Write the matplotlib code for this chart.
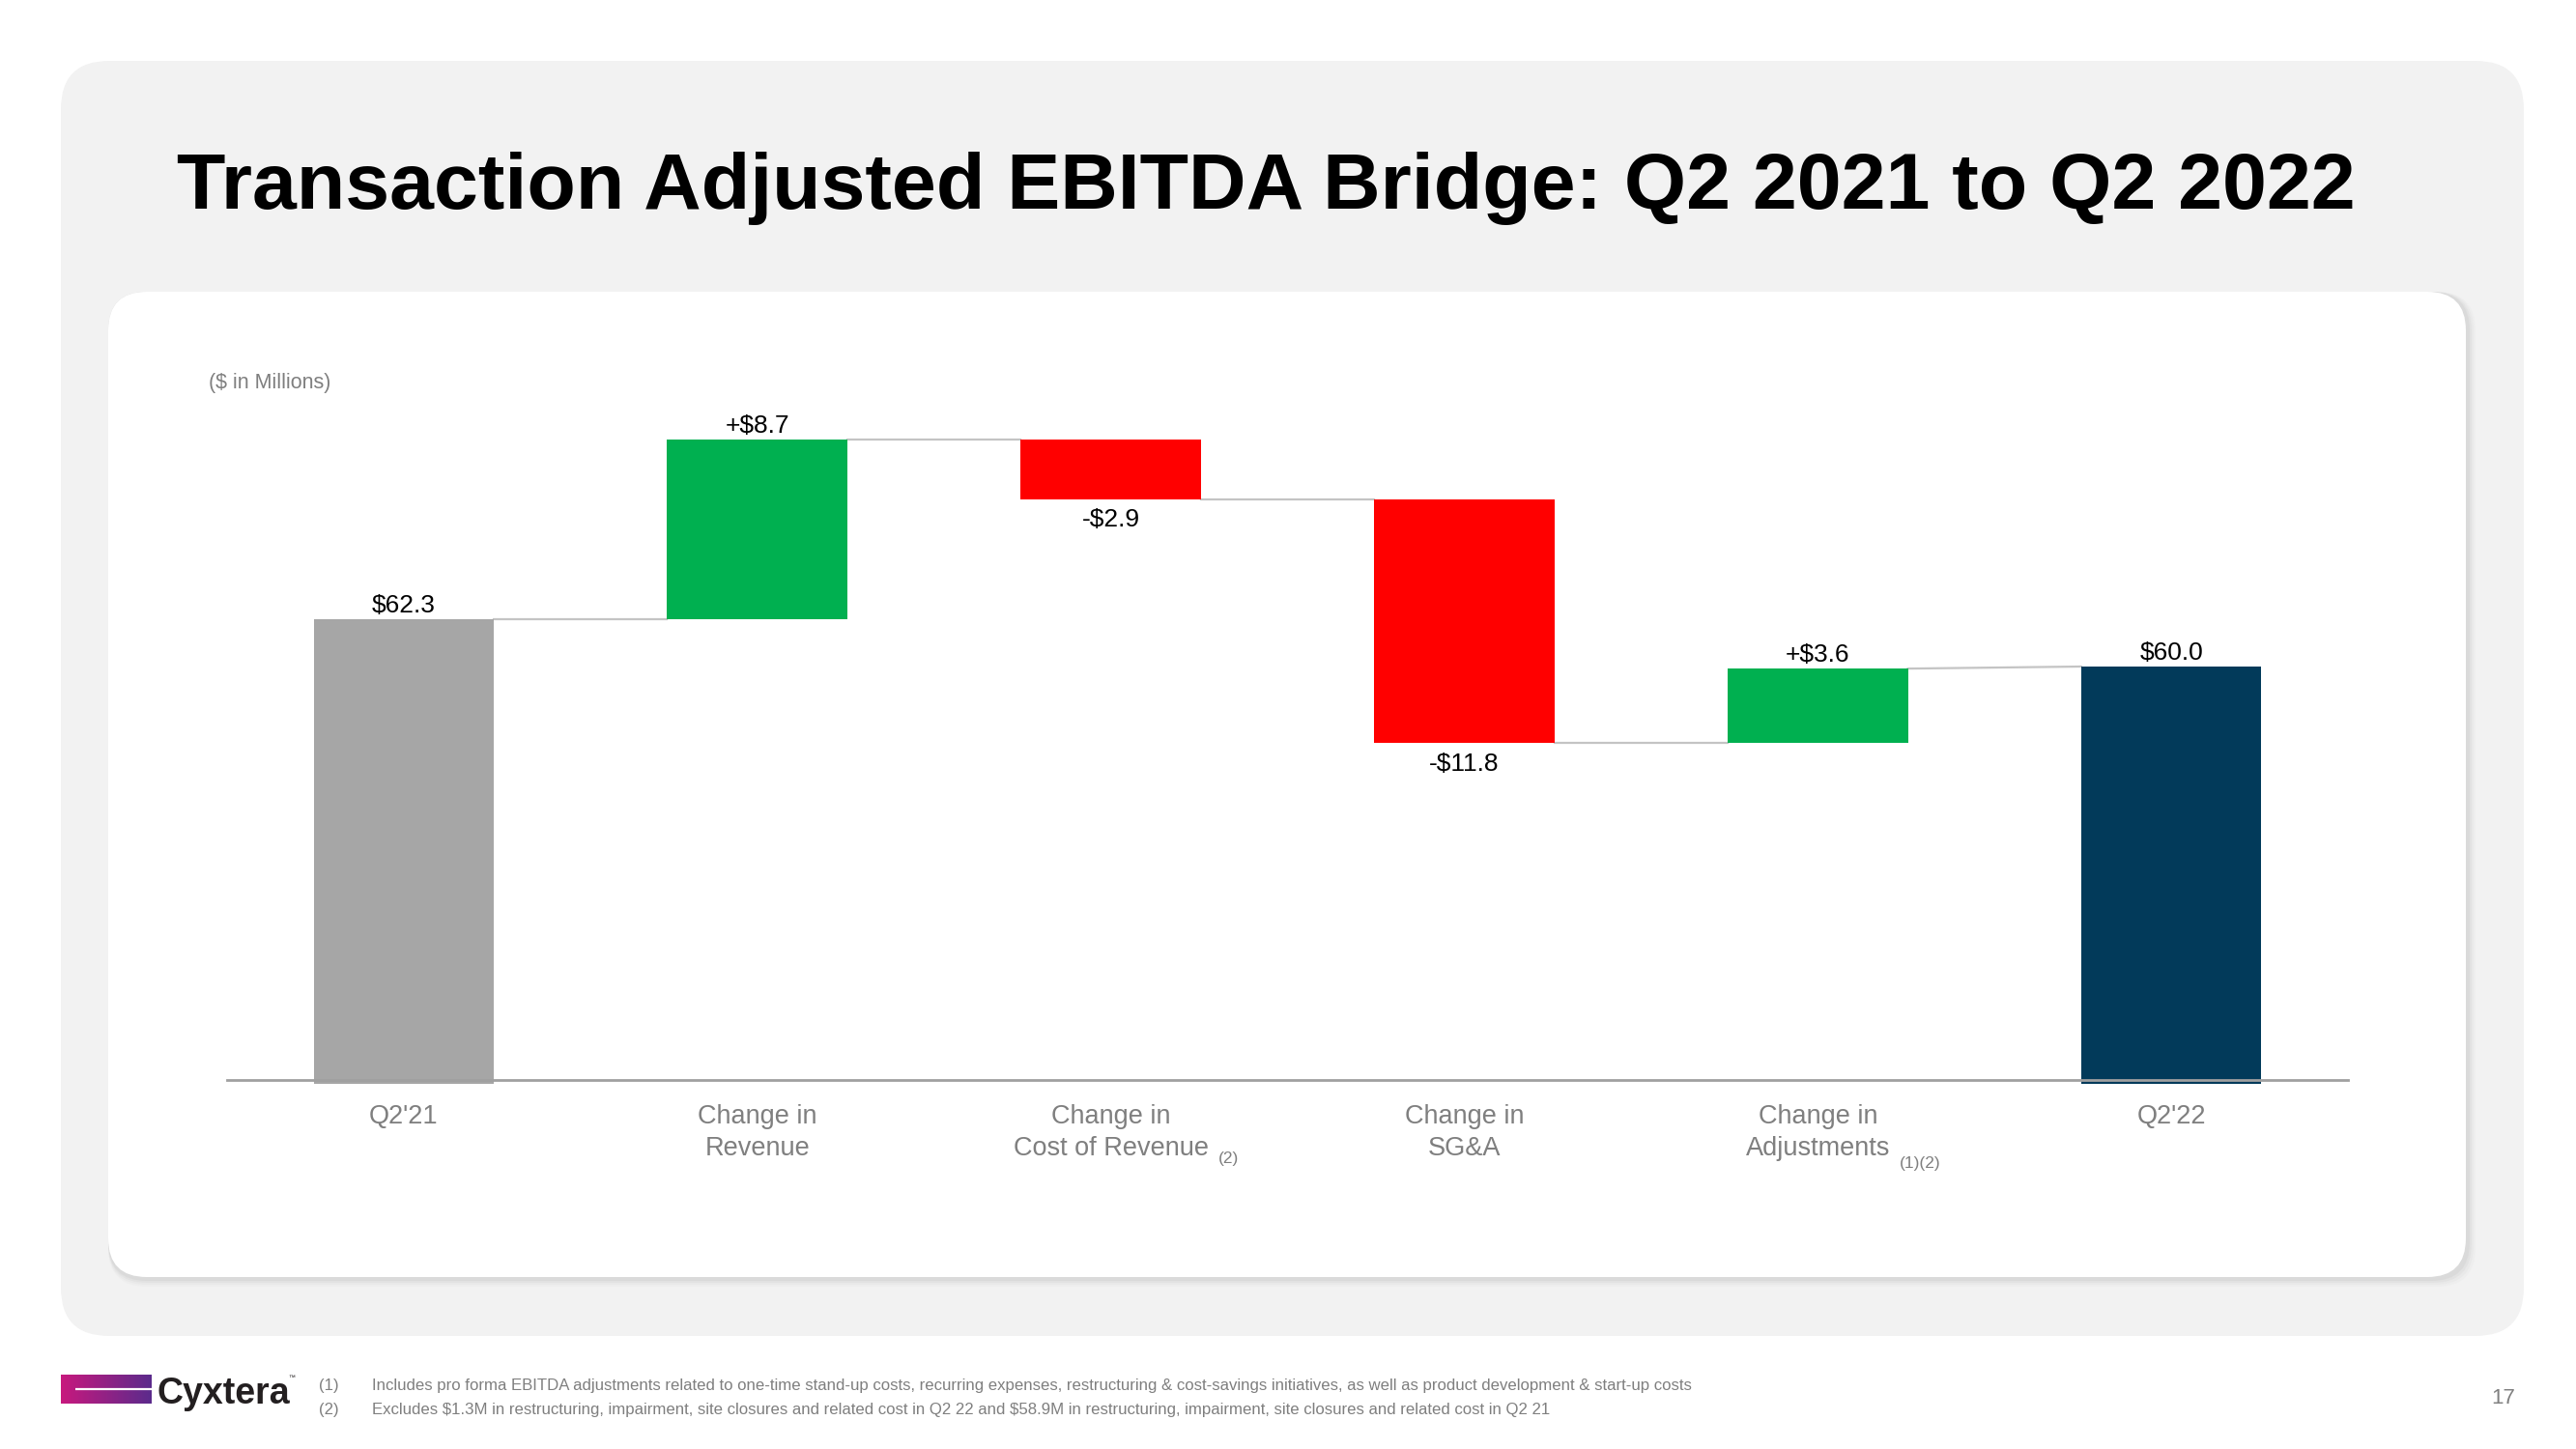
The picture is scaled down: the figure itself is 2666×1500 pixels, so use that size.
import matplotlib
matplotlib.use('Agg')
import matplotlib.pyplot as plt
from matplotlib.patches import FancyBboxPatch
import numpy as np

plt.rcParams['font.family'] = ['Liberation Sans', 'DejaVu Sans']
plt.rcParams['text.parse_math'] = False

# Chart data ($ in millions)
categories = ["Q2'21", "Change in\nRevenue", "Change in\nCost of Revenue",
              "Change in\nSG&A", "Change in\nAdjustments", "Q2'22"]
start_value = 62.3
changes = [8.7, -2.9, -11.8, 3.6]
end_value = 60.0
value_labels = ["$62.3", "+$8.7", "-$2.9", "-$11.8", "+$3.6", "$60.0"]
label_notes = ["", "", "(2)", "", "(1)(2)", ""]
y_floor = 40.0

title = "Transaction Adjusted EBITDA Bridge: Q2 2021 to Q2 2022"
footnotes = [
    ("(1)", "Includes pro forma EBITDA adjustments related to one-time stand-up costs, recurring expenses, "
            "restructuring & cost-savings initiatives, as well as product development & start-up costs"),
    ("(2)", "Excludes $1.3M in restructuring, impairment, site closures and related cost in Q2 22 and "
            "$58.9M in restructuring, impairment, site closures and related cost in Q2 21"),
]
page_number = "17"

W, H = 2666, 1500
fig = plt.figure(figsize=(W / 100, H / 100), dpi=100)
fig.patch.set_facecolor('white')

# background layer in pixel coordinates (y down)
bg = fig.add_axes([0, 0, 1, 1], zorder=0)
bg.set_xlim(0, W)
bg.set_ylim(H, 0)
bg.axis('off')

bg.add_patch(FancyBboxPatch((63, 63), 2549, 1320, boxstyle='round,pad=0,rounding_size=50',
                            fc='#f2f2f2', ec='none'))
# soft shadow of the white card
for k, a in enumerate([0.04, 0.06, 0.08, 0.10]):
    off = 10 - 2 * k
    bg.add_patch(FancyBboxPatch((112 + off / 2, 302 + off / 2), 2440, 1020,
                                boxstyle='round,pad=%d,rounding_size=40' % (off / 2),
                                fc='#9a9a9a', ec='none', alpha=a))
bg.add_patch(FancyBboxPatch((112, 302), 2440, 1020, boxstyle='round,pad=0,rounding_size=40',
                            fc='white', ec='none'))

bg.text(1310, 216, title, ha='center', va='baseline', fontsize=59.4,
        fontweight='bold', color='black')
bg.text(216, 402, "($ in Millions)", ha='left', va='baseline', fontsize=15.5, color='#7f7f7f')

# logo
grad = np.linspace(0, 1, 256).reshape(1, -1)
cmap = matplotlib.colors.LinearSegmentedColormap.from_list('cx', ['#c8197e', '#5b2b8c'])
bg.imshow(grad, extent=[63, 157, 1453, 1423], cmap=cmap, aspect='auto', zorder=2)
bg.plot([78, 157], [1438, 1438], color='white', lw=1.6, zorder=3, solid_capstyle='butt')
bg.text(163, 1453, "Cyxtera", ha='left', va='baseline', fontsize=27, fontweight='bold',
        color='#231f20')
bg.text(298, 1428, "\u2122", ha='left', va='baseline', fontsize=5, color='#231f20')

for j, (num, txt) in enumerate(footnotes):
    yy = 1439 + 25 * j
    bg.text(330, yy, num, ha='left', va='baseline', fontsize=12.1, color='#7f7f7f')
    bg.text(385, yy, txt, ha='left', va='baseline', fontsize=12.1, color='#7f7f7f')

bg.text(2603, 1453, page_number, ha='right', va='baseline', fontsize=16, color='#7f7f7f')

# waterfall geometry
bottoms, heights, colors = [], [], []
ends, starts = [], []
bottoms.append(y_floor - 0.2)
heights.append(start_value - y_floor + 0.2)
colors.append('#a6a6a6')
starts.append(start_value)
ends.append(start_value)
level = start_value
for c in changes:
    starts.append(level)
    bottoms.append(min(level, level + c))
    heights.append(abs(c))
    colors.append('#00b050' if c > 0 else '#ff0000')
    level += c
    ends.append(level)
bottoms.append(y_floor - 0.2)
heights.append(end_value - y_floor + 0.2)
colors.append('#023a5a')
starts.append(end_value)
ends.append(end_value)

x = np.arange(len(categories))
bar_w = 0.51

ax = fig.add_axes([235 / W, (H - 1118) / H, 2195 / W, (1118 - 369) / H], zorder=2)
ax.patch.set_alpha(0)
ax.set_xlim(-0.5, 5.5)
ax.set_ylim(y_floor, 75)
ax.axis('off')

ax.bar(x, heights, bottom=bottoms, width=bar_w, color=colors, zorder=2, clip_on=False)
ax.axhline(y_floor, color='#a0a0a0', lw=2, zorder=3, clip_on=False)

for i in range(len(x) - 1):
    ax.plot([x[i] + bar_w / 2, x[i + 1] - bar_w / 2], [ends[i], starts[i + 1]],
            color='#c4c4c4', lw=1.6, zorder=1)

for i, lab in enumerate(value_labels):
    top = bottoms[i] + heights[i]
    if 0 < i < len(x) - 1 and changes[i - 1] < 0:
        ax.annotate(lab, xy=(x[i], bottoms[i]), xytext=(0, -7), textcoords='offset points',
                    ha='center', va='top', fontsize=19, color='black')
    else:
        ax.annotate(lab, xy=(x[i], top), xytext=(0, 1.5), textcoords='offset points',
                    ha='center', va='bottom', fontsize=19, color='black')

tick_texts = []
for i, cat in enumerate(categories):
    t = ax.annotate(cat, xy=(x[i], y_floor), xytext=(0, -18), textcoords='offset points',
                    ha='center', va='top', fontsize=19.5, color='#7f7f7f', linespacing=1.36)
    tick_texts.append(t)

fig.canvas.draw()
renderer = fig.canvas.get_renderer()
for i, note in enumerate(label_notes):
    if not note:
        continue
    bb = tick_texts[i].get_window_extent(renderer)
    drop = 2 if len(note) > 3 else -3
    bg.text(bb.x1 + 10, H - bb.y0 + drop, note, ha='left', va='center',
            fontsize=12.5, color='#7f7f7f')

fig.savefig('out.png', dpi=100, facecolor='white')
